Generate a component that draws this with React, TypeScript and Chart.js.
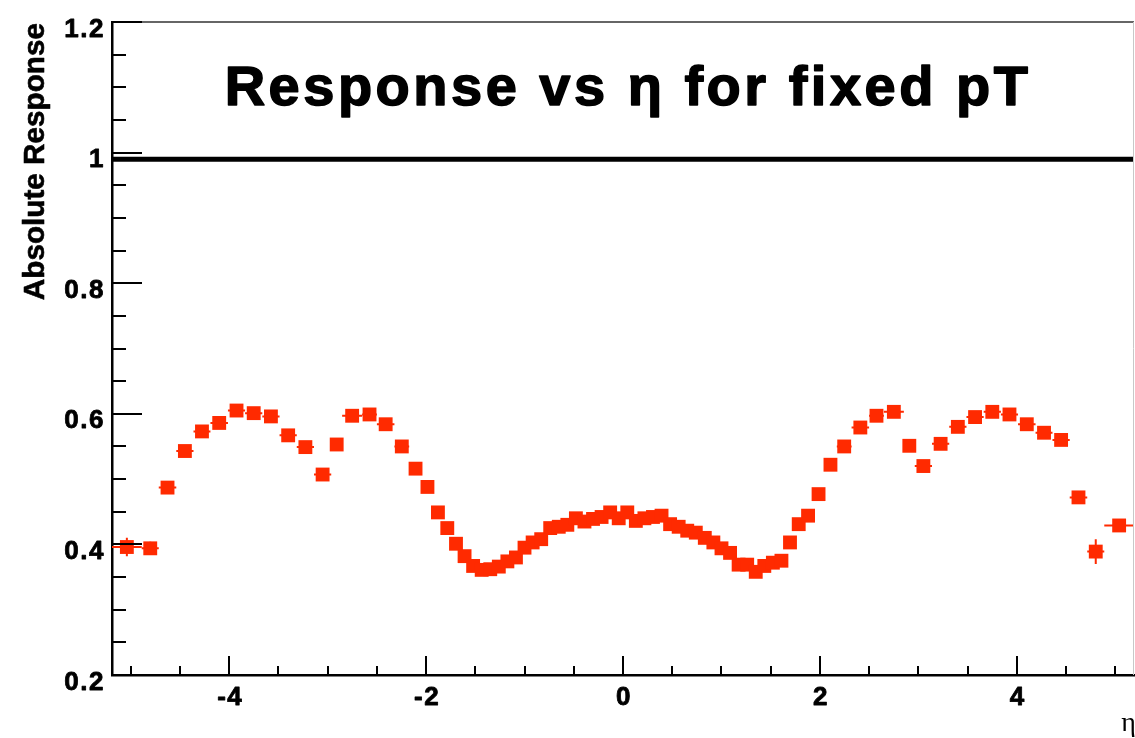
import React, { useEffect, useRef } from 'react';
import { Chart, registerables } from 'chart.js';

Chart.register(...registerables);

// CMS-style eta bin edges (positive side; mirrored for negative side)
const etaEdgesPositive = [
  0, 0.087, 0.174, 0.261, 0.348, 0.435, 0.522, 0.609, 0.696, 0.783, 0.879, 0.957,
  1.044, 1.131, 1.218, 1.305, 1.392, 1.479, 1.566, 1.653, 1.74, 1.83, 1.93, 2.043,
  2.172, 2.322, 2.5, 2.65, 2.853, 2.964, 3.139, 3.314, 3.489, 3.664, 3.839, 4.013,
  4.191, 4.363, 4.538, 4.716, 4.889, 5.191,
];
const etaEdges = [
  ...etaEdgesPositive.slice(1).reverse().map((v) => -v),
  ...etaEdgesPositive,
];

// Absolute response per eta bin (82 bins, from -5.191 to 5.191)
const response = [
  0.396, 0.394, 0.487, 0.543, 0.573, 0.586, 0.605, 0.601, 0.596, 0.567, 0.549, 0.507,
  0.553, 0.597, 0.599, 0.584, 0.55, 0.516, 0.488, 0.449, 0.425, 0.401, 0.382, 0.367,
  0.361, 0.362, 0.366, 0.374, 0.38, 0.395, 0.403, 0.408, 0.425, 0.427, 0.43, 0.44,
  0.435, 0.439, 0.442, 0.449, 0.44,
  0.449, 0.436, 0.44, 0.442, 0.444, 0.431, 0.427, 0.421, 0.418, 0.41, 0.403, 0.394,
  0.387, 0.369, 0.369, 0.358, 0.367, 0.372, 0.375, 0.403, 0.431, 0.444, 0.477, 0.522,
  0.55, 0.579, 0.597, 0.603, 0.551, 0.52, 0.554, 0.58, 0.595, 0.603, 0.599, 0.584,
  0.571, 0.56, 0.472, 0.389, 0.429,
];

// Statistical uncertainty on the response
const responseErr = [
  0.014, 0.01, 0.006, 0.004, 0.004, 0.004, 0.004, 0.004, 0.004, 0.004, 0.004, 0.004,
  0.004, 0.004, 0.004, 0.004, 0.004, 0.004, 0.004, 0.004, 0.004, 0.004, 0.004, 0.004,
  0.004, 0.004, 0.004, 0.004, 0.004, 0.004, 0.004, 0.004, 0.004, 0.004, 0.004, 0.004,
  0.004, 0.004, 0.004, 0.004, 0.004,
  0.004, 0.004, 0.004, 0.004, 0.004, 0.004, 0.004, 0.004, 0.004, 0.004, 0.004, 0.004,
  0.004, 0.004, 0.004, 0.004, 0.004, 0.004, 0.004, 0.004, 0.004, 0.004, 0.004, 0.004,
  0.004, 0.004, 0.004, 0.004, 0.004, 0.004, 0.004, 0.004, 0.004, 0.004, 0.004, 0.004,
  0.004, 0.004, 0.006, 0.019, 0.008,
];

const referenceLevel = 0.99;
const xMajorTicks = [-4, -2, 0, 2, 4];
const xTickLabels = ['-4', '-2', '0', '2', '4'];
const yMajorTicks = [0.2, 0.4, 0.6, 0.8, 1.0, 1.2];
const yTickLabels = ['0.2', '0.4', '0.6', '0.8', '1', '1.2'];
const titleText = 'Response vs \u03b7 for fixed pT';
const yTitleText = 'Absolute Response';
const xTitleText = '\u03b7';

const X_MIN = etaEdges[0];
const X_MAX = etaEdges[etaEdges.length - 1];
const Y_MIN = 0.2;
const Y_MAX = 1.2;
const RED = '#ff2a00';
const SANS = '"Liberation Sans", Arial, Helvetica, sans-serif';

const points = response.map((v, i) => ({
  x: (etaEdges[i] + etaEdges[i + 1]) / 2,
  y: v,
  lo: etaEdges[i],
  hi: etaEdges[i + 1],
  err: responseErr[i],
}));

const setSpacing = (ctx: any, px: number) => {
  if ('letterSpacing' in ctx) ctx.letterSpacing = px + 'px';
};

const heavyText = (ctx: any, text: string, x: number, y: number, stroke: number) => {
  ctx.fillText(text, x, y);
  if (stroke > 0) {
    ctx.lineWidth = stroke;
    ctx.strokeStyle = '#000';
    ctx.lineJoin = 'round';
    ctx.strokeText(text, x, y);
  }
};

const rootPlugin = {
  id: 'rootStyle',
  beforeDatasetsDraw(chart: any) {
    const { ctx, scales } = chart;
    const xs = scales.x;
    const ys = scales.y;
    ctx.save();
    ctx.strokeStyle = RED;
    ctx.lineWidth = 2;
    points.forEach((p) => {
      const y = ys.getPixelForValue(p.y);
      const x = xs.getPixelForValue(p.x);
      ctx.beginPath();
      ctx.moveTo(xs.getPixelForValue(p.lo), y);
      ctx.lineTo(xs.getPixelForValue(p.hi), y);
      ctx.moveTo(x, ys.getPixelForValue(p.y - p.err));
      ctx.lineTo(x, ys.getPixelForValue(p.y + p.err));
      ctx.stroke();
    });
    ctx.restore();
  },
  afterDraw(chart: any) {
    const { ctx, scales, chartArea } = chart;
    const xs = scales.x;
    const ys = scales.y;
    const { left, right, top, bottom } = chartArea;
    ctx.save();
    // frame top / right
    ctx.strokeStyle = '#333';
    ctx.lineWidth = 1.5;
    ctx.beginPath();
    ctx.moveTo(left, top);
    ctx.lineTo(right, top);
    ctx.stroke();
    ctx.strokeStyle = '#c8c8c8';
    ctx.lineWidth = 1;
    ctx.beginPath();
    ctx.moveTo(right - 0.5, top);
    ctx.lineTo(right - 0.5, bottom);
    ctx.stroke();

    // inward ticks
    ctx.strokeStyle = '#000';
    ctx.lineWidth = 2;
    ctx.beginPath();
    for (let k = 0; k <= 20; k++) {
      const v = Y_MIN + k * 0.05;
      const y = Math.round(ys.getPixelForValue(v));
      const major = yMajorTicks.some((m) => Math.abs(m - v) < 1e-6);
      ctx.moveTo(left, y);
      ctx.lineTo(left + (major ? 30 : 14), y);
    }
    for (let k = -10; k <= 10; k++) {
      const v = k * 0.5;
      const x = Math.round(xs.getPixelForValue(v));
      const major = xMajorTicks.some((m) => Math.abs(m - v) < 1e-6);
      ctx.moveTo(x, bottom);
      ctx.lineTo(x, bottom - (major ? 19 : 9));
    }
    ctx.stroke();

    ctx.fillStyle = '#000';
    ctx.textBaseline = 'alphabetic';

    // tick labels
    ctx.font = 'bold 26px ' + SANS;
    setSpacing(ctx, 1.5);
    ctx.textAlign = 'right';
    yMajorTicks.forEach((v, i) => {
      heavyText(ctx, yTickLabels[i], 105, ys.getPixelForValue(v) + 14.5, 0.8);
    });
    ctx.textAlign = 'center';
    xMajorTicks.forEach((v, i) => {
      heavyText(ctx, xTickLabels[i], xs.getPixelForValue(v) + 1, 705, 0.8);
    });

    // title
    ctx.font = 'bold 56px ' + SANS;
    setSpacing(ctx, 3.5);
    ctx.textAlign = 'center';
    heavyText(ctx, titleText, 628, 105, 1.5);

    // y title
    setSpacing(ctx, 0);
    ctx.save();
    ctx.translate(44, 23);
    ctx.rotate(-Math.PI / 2);
    ctx.font = 'bold 29.7px ' + SANS;
    ctx.textAlign = 'right';
    heavyText(ctx, yTitleText, 0, 0, 0.6);
    ctx.restore();

    // x title
    ctx.font = '28px "Liberation Serif", "DejaVu Serif", serif';
    ctx.textAlign = 'right';
    ctx.fillText(xTitleText, 1136, 731);
    ctx.restore();
  },
};

export default function App() {
  const canvasRef = useRef<HTMLCanvasElement | null>(null);

  useEffect(() => {
    document.body.style.margin = '0';
    const canvas = canvasRef.current;
    if (!canvas) return;
    const chart = new Chart(canvas, {
      type: 'scatter',
      data: {
        datasets: [
          {
            type: 'line',
            label: 'reference',
            data: [
              { x: X_MIN, y: referenceLevel },
              { x: X_MAX, y: referenceLevel },
            ],
            borderColor: '#000',
            borderWidth: 5,
            pointRadius: 0,
            fill: false,
          } as any,
          {
            label: 'response',
            data: points.map((p) => ({ x: p.x, y: p.y })),
            pointStyle: 'rect',
            pointRadius: 9.8,
            pointHoverRadius: 9.8,
            backgroundColor: RED,
            borderColor: RED,
            borderWidth: 0,
          },
        ],
      },
      plugins: [rootPlugin],
      options: {
        responsive: false,
        animation: false,
        devicePixelRatio: 1,
        layout: { autoPadding: false, padding: { top: 22, right: 1, left: 0, bottom: 0 } },
        plugins: {
          legend: { display: false },
          tooltip: { enabled: false },
          title: { display: false },
        },
        events: [],
        scales: {
          x: {
            type: 'linear',
            min: X_MIN,
            max: X_MAX,
            afterFit: (scale: any) => {
              scale.height = 63;
            },
            border: { display: true, color: '#000', width: 2.5 },
            grid: { display: true, drawOnChartArea: false, drawTicks: false },
            ticks: { display: false },
          },
          y: {
            type: 'linear',
            min: Y_MIN,
            max: Y_MAX,
            afterFit: (scale: any) => {
              scale.width = 112;
            },
            border: { display: true, color: '#000', width: 2.5 },
            grid: { display: true, drawOnChartArea: false, drawTicks: false },
            ticks: { display: false },
          },
        },
      } as any,
    });
    return () => chart.destroy();
  }, []);

  return (
    <div style={{ position: 'absolute', left: 0, top: 0, width: 1135, height: 738, background: '#fff' }}>
      <canvas ref={canvasRef} width={1135} height={738} style={{ display: 'block' }} />
    </div>
  );
}
